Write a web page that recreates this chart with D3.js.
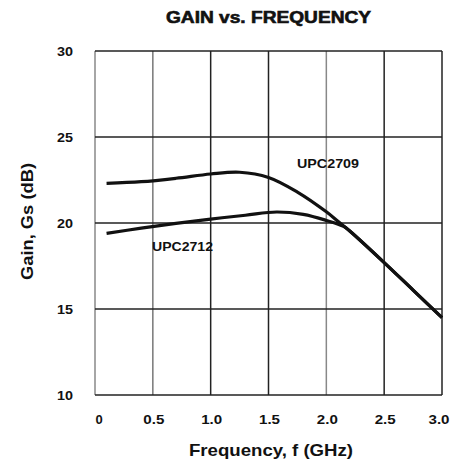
<!DOCTYPE html>
<html><head><meta charset="utf-8">
<script src="https://cdn.jsdelivr.net/npm/d3@7"></script>
<style>body{margin:0;background:#fff}svg{display:block}text{font-family:"Liberation Sans",Arial,sans-serif;font-weight:bold;fill:#111}</style>
</head><body>
<script>
const xTicks = [0, 0.5, 1.0, 1.5, 2.0, 2.5, 3.0];
const xTickLabels = ["0", "0.5", "1.0", "1.5", "2.0", "2.5", "3.0"];
const yTicks = [10, 15, 20, 25, 30];
const freqUpc2709 = [0.1, 0.4, 0.7, 1.0, 1.25, 1.5, 1.75, 2.0, 2.1, 2.2, 2.5, 2.75, 3.0];
const gainUpc2709 = [22.3, 22.4, 22.6, 22.85, 22.95, 22.65, 21.8, 20.65, 20.1, 19.55, 17.7, 16.1, 14.5];
const freqUpc2712 = [0.1, 0.4, 0.7, 1.0, 1.3, 1.57, 1.8, 2.0, 2.15, 2.2, 2.5, 2.75, 3.0];
const gainUpc2712 = [19.4, 19.7, 19.98, 20.23, 20.45, 20.64, 20.5, 20.15, 19.8, 19.55, 17.7, 16.1, 14.5];

const W = 452, H = 462;
const svg = d3.select("body").append("svg").attr("width", W).attr("height", H);
const x = d3.scaleLinear().domain([0, 3]).range([95, 442]);
const y = d3.scaleLinear().domain([10, 30]).range([395, 51]);

// grid
const gridColor = {0:"#888",0.5:"#777",1:"#222",1.5:"#222",2:"#888",2.5:"#222",3:"#222"};
svg.append("g").selectAll("line").data(xTicks).join("line")
  .attr("x1", d => x(d)).attr("x2", d => x(d)).attr("y1", y(30)).attr("y2", y(10))
  .attr("stroke", d => gridColor[d]).attr("stroke-width", 1.5);
svg.append("g").selectAll("line").data(yTicks).join("line")
  .attr("x1", x(0)).attr("x2", x(3)).attr("y1", d => y(d)).attr("y2", d => y(d))
  .attr("stroke", "#222").attr("stroke-width", 1.5);

// tick labels
svg.append("g").selectAll("text").data(yTicks).join("text")
  .attr("x", 73).attr("y", d => y(d) + 5).attr("text-anchor", "end")
  .attr("font-size", 13).attr("textLength", 16).attr("lengthAdjust", "spacingAndGlyphs").text(d => d);
svg.append("g").selectAll("text").data(xTicks).join("text")
  .attr("x", (d, i) => i === 0 ? x(d) + 4 : (i === xTicks.length - 1 ? x(d) - 3 : x(d) + 1))
  .attr("y", 424).attr("text-anchor", "middle")
  .attr("font-size", 13)
  .each(function(d, i) { if (xTickLabels[i].length > 1) d3.select(this).attr("textLength", 21).attr("lengthAdjust", "spacingAndGlyphs"); })
  .text((d, i) => xTickLabels[i]);

// curves
const line = d3.line().x(d => x(d[0])).y(d => y(d[1])).curve(d3.curveCatmullRom.alpha(0.5));
svg.append("path").datum(d3.zip(freqUpc2709, gainUpc2709)).attr("d", line)
  .attr("fill", "none").attr("stroke", "#111").attr("stroke-width", 3.2);
svg.append("path").datum(d3.zip(freqUpc2712, gainUpc2712)).attr("d", line)
  .attr("fill", "none").attr("stroke", "#111").attr("stroke-width", 3.2);

// labels
svg.append("text").attr("x", 297).attr("y", 168).attr("font-size", 12)
  .attr("textLength", 62).attr("lengthAdjust", "spacingAndGlyphs").text("UPC2709");
svg.append("text").attr("x", 152).attr("y", 251).attr("font-size", 12)
  .attr("textLength", 61).attr("lengthAdjust", "spacingAndGlyphs").text("UPC2712");

svg.append("text").attr("x", 166).attr("y", 23)
  .attr("font-size", 16).attr("textLength", 205).attr("lengthAdjust", "spacingAndGlyphs")
  .attr("stroke", "#111").attr("stroke-width", 0.6).text("GAIN vs. FREQUENCY");
svg.append("text").attr("x", 189).attr("y", 456)
  .attr("font-size", 17).attr("textLength", 164).attr("lengthAdjust", "spacingAndGlyphs").text("Frequency, f (GHz)");
svg.append("text").attr("transform", "translate(33,280) rotate(-90)")
  .attr("font-size", 17).attr("textLength", 117).attr("lengthAdjust", "spacingAndGlyphs").text("Gain, Gs (dB)");
</script>
</body></html>
